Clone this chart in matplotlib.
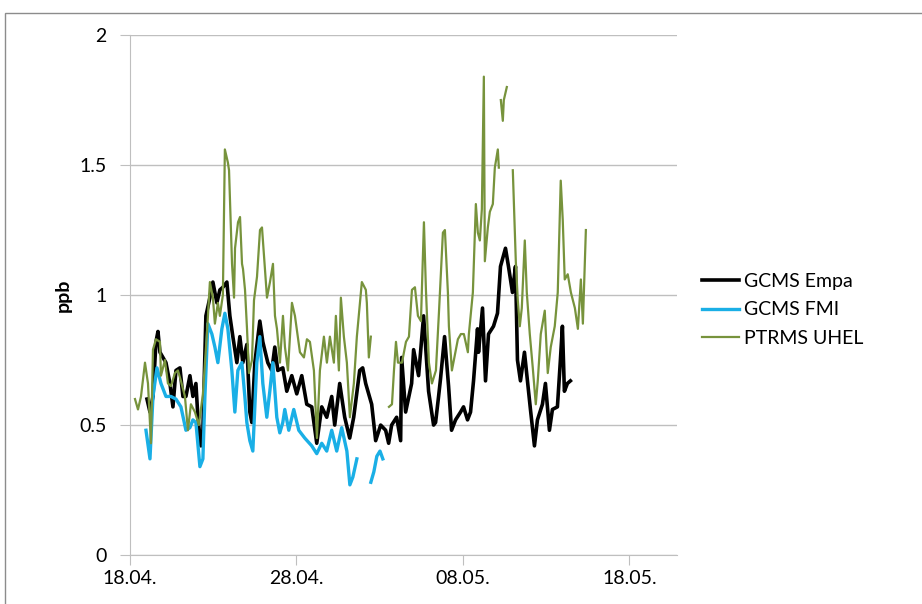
import numpy as np
import matplotlib
matplotlib.use("Agg")
import matplotlib.pyplot as plt
from matplotlib.patches import Rectangle

# ======================
# DATA (days since 18.04., ppb)
# ======================
empa_days = [1.02, 1.20, 1.38, 1.56, 1.68, 1.80, 1.98, 2.16, 2.40, 2.58, 2.76, 3.00, 3.18, 3.36,
             3.60, 3.78, 3.96, 4.08, 4.26, 4.38, 4.56, 4.80, 4.98, 5.22, 5.40, 5.58, 5.82, 6.00,
             6.18, 6.42, 6.60, 6.78, 7.02, 7.20, 7.32, 7.50, 7.80, 7.98, 8.28, 8.52, 8.70, 8.88,
             9.18, 9.42, 9.72, 10.02, 10.32, 10.62, 10.92, 11.22, 11.52, 11.82, 12.12, 12.30,
             12.60, 12.90, 13.20, 13.44, 13.80, 13.98, 14.16, 14.52, 14.76, 15.06, 15.36, 15.54,
             15.72, 16.02, 16.26, 16.32, 16.56, 16.92, 17.04, 17.34, 17.64, 17.94, 18.24, 18.36,
             18.54, 18.66, 18.90, 19.14, 19.32, 19.56, 19.86, 20.04, 20.28, 20.46, 20.64, 20.88,
             20.94, 21.18, 21.36, 21.54, 21.84, 22.08, 22.26, 22.56, 22.74, 22.98, 23.16, 23.28,
             23.46, 23.70, 23.88, 24.06, 24.30, 24.48, 24.78, 24.96, 25.20, 25.38, 25.68, 25.86,
             25.98, 26.10, 26.28, 26.46]
empa_ppb = [0.60, 0.55, 0.61, 0.82, 0.86, 0.78, 0.76, 0.74, 0.66, 0.57, 0.71, 0.72, 0.61, 0.61,
            0.69, 0.61, 0.66, 0.53, 0.42, 0.48, 0.92, 0.99, 1.05, 0.97, 1.02, 1.03, 1.05, 0.92,
            0.84, 0.74, 0.84, 0.74, 0.81, 0.55, 0.51, 0.74, 0.90, 0.82, 0.74, 0.71, 0.80, 0.71,
            0.72, 0.63, 0.69, 0.62, 0.69, 0.58, 0.57, 0.43, 0.57, 0.53, 0.61, 0.50,
            0.66, 0.53, 0.45, 0.53, 0.71, 0.72, 0.66, 0.58, 0.44, 0.50, 0.48, 0.43,
            0.50, 0.53, 0.44, 0.76, 0.55, 0.66, 0.79, 0.69, 0.92, 0.63, 0.50, 0.51,
            0.61, 0.68, 0.84, 0.65, 0.48, 0.52, 0.55, 0.57, 0.52, 0.55, 0.67, 0.87,
            0.78, 0.95, 0.67, 0.85, 0.88, 0.93, 1.11, 1.18, 1.11, 1.01, 1.11, 0.75,
            0.67, 0.78, 0.67, 0.56, 0.42, 0.52, 0.58, 0.66, 0.48, 0.56, 0.57, 0.75,
            0.88, 0.63, 0.66, 0.67]

fmi_days = [0.96, 1.20, 1.38, 1.62, 1.86, 2.16, 2.46, 2.76, 3.06, 3.36, 3.60, 3.78, 3.96, 4.20,
            4.38, 4.50, 4.68, 4.92, 5.10, 5.28, 5.52, 5.70, 5.88, 6.12, 6.30, 6.48, 6.72, 6.90,
            7.02, 7.20, 7.38, 7.62, 7.80, 7.98, 8.22, 8.40, 8.58, 8.82, 9.00, 9.18, 9.30, 9.54,
            9.84, 10.14, 10.50, 10.92, 11.22, 11.52, 11.82, 12.12, 12.42, 12.72, 13.03, 13.21,
            13.39, 13.63, 14.00,
            14.47, 14.65, 14.83, 15.02, 15.19]
fmi_ppb = [0.48, 0.37, 0.61, 0.72, 0.66, 0.61, 0.61, 0.60, 0.57, 0.48, 0.49, 0.52, 0.51, 0.34,
           0.37, 0.61, 0.89, 0.85, 0.80, 0.74, 0.87, 0.93, 0.87, 0.71, 0.55, 0.71, 0.74, 0.61,
           0.51, 0.44, 0.40, 0.74, 0.84, 0.66, 0.53, 0.63, 0.74, 0.53, 0.47, 0.51, 0.56, 0.48,
           0.56, 0.48, 0.45, 0.42, 0.39, 0.43, 0.40, 0.48, 0.40, 0.49, 0.40, 0.27,
           0.30, 0.37, np.nan,
           0.28, 0.32, 0.38, 0.40, 0.37]

uhel_days = [0.30, 0.48, 0.66, 0.90, 1.08, 1.26, 1.38, 1.56, 1.80, 1.86, 2.10, 2.28, 2.46, 2.70,
             2.88, 3.06, 3.30, 3.48, 3.66, 3.90, 4.14, 4.38, 4.62, 4.80, 4.98, 5.10, 5.28, 5.40,
             5.58, 5.70, 5.88, 5.95, 6.13, 6.25, 6.31, 6.49, 6.61, 6.73, 6.79, 6.91, 7.03, 7.15,
             7.33, 7.45, 7.63, 7.81, 7.93, 8.05, 8.23, 8.41, 8.59, 8.71, 8.83, 9.01, 9.19, 9.31,
             9.49, 9.73, 9.91, 10.21, 10.45, 10.63, 10.81, 11.05, 11.23, 11.41, 11.65, 11.83,
             12.01, 12.25, 12.37, 12.55, 12.67, 12.85, 13.03, 13.21, 13.45, 13.63, 13.93, 14.17,
             14.23, 14.35, 14.47, 15.00,
             15.56, 15.74, 15.86, 15.98, 16.10, 16.34, 16.58, 16.76, 16.94, 17.12, 17.30, 17.48,
             17.66, 17.78, 17.96, 18.14, 18.38, 18.56, 18.80, 18.92, 19.10, 19.16, 19.34, 19.46,
             19.70, 19.88, 20.06, 20.30, 20.36, 20.60, 20.78, 20.90, 21.02, 21.14, 21.26, 21.32,
             21.50, 21.62, 21.80, 21.92, 22.10, 22.16, 22.22,
             22.28, 22.40, 22.46, 22.64, 22.80,
             23.00, 23.18, 23.30, 23.42, 23.54, 23.72, 23.84, 24.02, 24.20, 24.38, 24.50, 24.68,
             24.92, 25.10, 25.28, 25.52, 25.70, 25.88, 26.00, 26.12, 26.30, 26.49, 26.73, 26.91,
             27.09, 27.21, 27.39]
uhel_ppb = [0.60, 0.56, 0.61, 0.74, 0.66, 0.43, 0.79, 0.83, 0.82, 0.69, 0.75, 0.66, 0.65, 0.70,
            0.71, 0.67, 0.61, 0.48, 0.58, 0.55, 0.50, 0.62, 0.85, 1.05, 0.99, 0.89, 0.97, 0.92,
            1.00, 1.56, 1.51, 1.48, 1.12, 0.99, 1.18, 1.28, 1.30, 1.12, 1.10, 1.02, 0.87, 0.70,
            0.75, 0.98, 1.07, 1.25, 1.26, 1.15, 0.99, 1.05, 1.12, 0.92, 0.87, 0.74, 0.92, 0.80,
            0.71, 0.97, 0.92, 0.78, 0.76, 0.83, 0.82, 0.71, 0.45, 0.71, 0.84, 0.74,
            0.84, 0.74, 0.92, 0.71, 0.99, 0.84, 0.74, 0.53, 0.66, 0.84, 1.05, 1.02,
            0.97, 0.76, 0.84, np.nan,
            0.57, 0.58, 0.71, 0.82, 0.74, 0.74, 0.82, 0.84, 1.02, 1.03, 0.92, 0.90,
            1.28, 1.02, 0.74, 0.66, 0.71, 0.93, 1.24, 1.25, 1.01, 0.88, 0.71, 0.75,
            0.83, 0.85, 0.85, 0.78, 0.85, 1.01, 1.35, 1.24, 1.21, 1.33, 1.84, 1.13,
            1.26, 1.32, 1.35, 1.49, 1.56, 1.49, np.nan,
            1.75, 1.67, 1.75, 1.80, np.nan,
            1.48, 1.13, 0.98, 0.88, 0.95, 1.21, 1.01, 0.85, 0.72, 0.58, 0.67, 0.85,
            0.94, 0.70, 0.80, 0.88, 1.01, 1.44, 1.29, 1.06, 1.08, 1.01, 0.95, 0.87,
            1.06, 0.89, 1.25]

tick_days = [0, 10, 20, 30]
tick_labels = ["18.04.", "28.04.", "08.05.", "18.05."]
y_ticks = [0, 0.5, 1, 1.5, 2]
y_labels = ["0", "0.5", "1", "1.5", "2"]

# ======================
# PLOT
# ======================
plt.rcParams['font.family'] = ['Lato', 'DejaVu Sans']

fig = plt.figure(figsize=(9.22, 6.04), dpi=100)
ax = fig.add_axes([0.141, 0.081, 0.593, 0.861])

# outer chart frame
fig.patches.append(Rectangle((5 / 922, -0.05), 1.0, 1 - 13 / 604 + 0.05,
                             transform=fig.transFigure, fill=False,
                             edgecolor="#8c8c8c", linewidth=1.0, clip_on=False))

ax.plot(empa_days, empa_ppb, color="black", linewidth=2.6, label="GCMS Empa", zorder=3)
ax.plot(fmi_days, fmi_ppb, color="#1aafe6", linewidth=2.4, label="GCMS FMI", zorder=4)
ax.plot(uhel_days, uhel_ppb, color="#77933c", linewidth=1.6, label="PTRMS UHEL", zorder=5)

ax.set_xlim(0, 32.85)
ax.set_ylim(0, 2)
ax.set_xticks(tick_days)
ax.set_xticklabels(tick_labels, fontsize=14)
ax.set_yticks(y_ticks)
ax.set_yticklabels(y_labels, fontsize=14)
ax.yaxis.grid(True, color="#bfbfbf", linewidth=1.0)
ax.set_axisbelow(True)

for side in ["top", "right"]:
    ax.spines[side].set_visible(False)
for side in ["left", "bottom"]:
    ax.spines[side].set_color("#bfbfbf")
ax.tick_params(axis="x", length=7, color="#bfbfbf", pad=4)
ax.tick_params(axis="y", length=7, color="#bfbfbf", pad=10)

ax.set_ylabel("ppb", fontsize=14, fontweight="bold", labelpad=5)

fig.legend(loc="center left", bbox_to_anchor=(0.742, 0.487), frameon=False,
           fontsize=14, handlelength=1.9, labelspacing=0.6, handletextpad=0.3)

plt.savefig("out.png", dpi=100)
